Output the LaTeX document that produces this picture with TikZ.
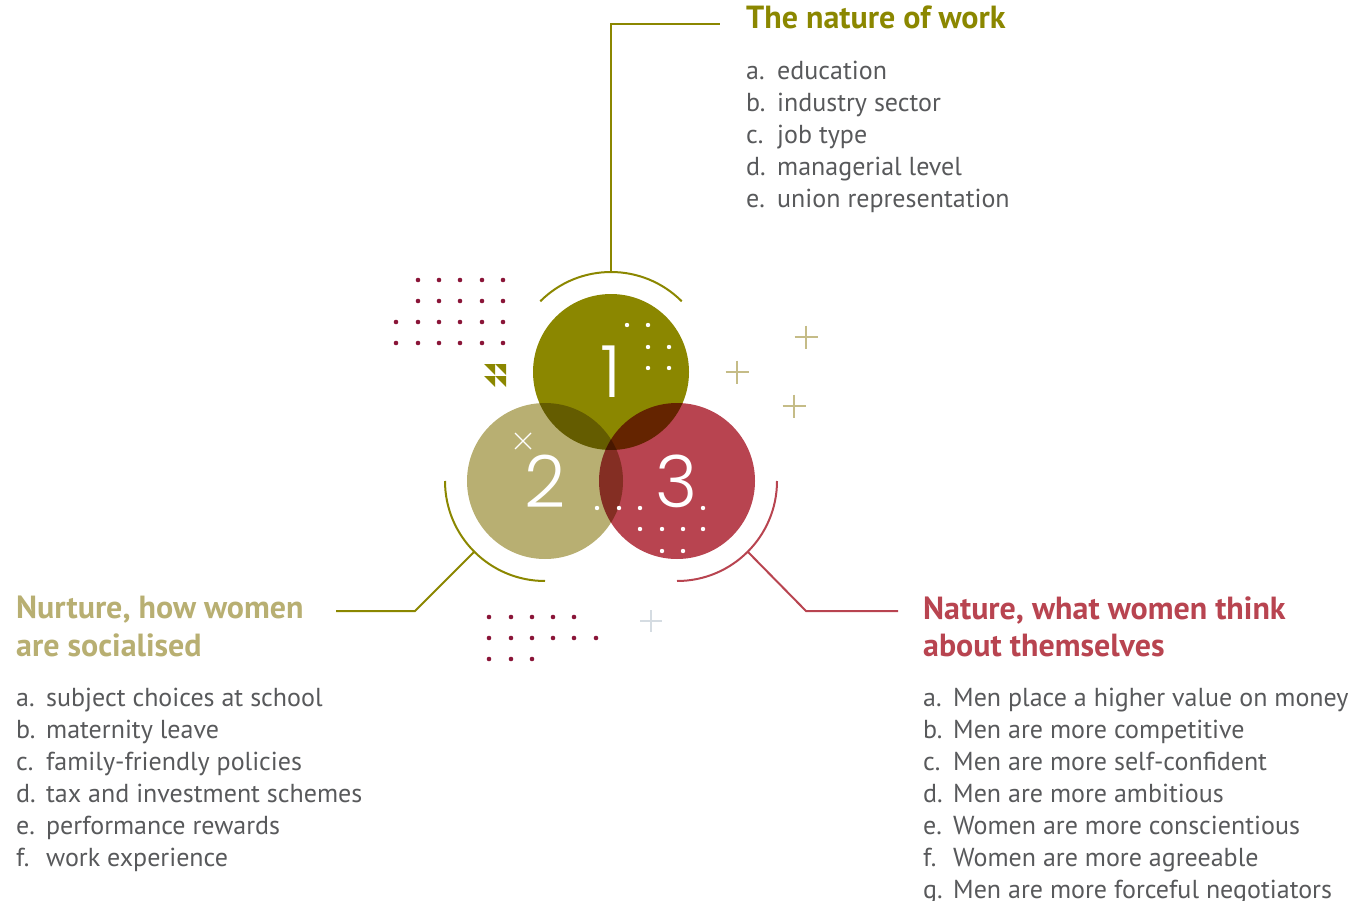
\documentclass[tikz,border=0pt]{standalone}
\usepackage{fontspec}
\setmainfont{PT Sans}
\newfontfamily\numfont{Poppins}[UprightFont=* Light]
\usetikzlibrary{positioning}

\definecolor{olivec}{HTML}{8B8700}
\definecolor{khaki}{HTML}{B8AF72}
\definecolor{crimson}{HTML}{B84450}
\definecolor{maroon}{HTML}{8A1538}
\definecolor{textgray}{HTML}{58595B}
\definecolor{pluskhaki}{HTML}{C5BC87}
\definecolor{plusgray}{HTML}{D5DCE2}

\begin{document}
\begin{tikzpicture}[x=1pt,y=-1pt,
  disc/.style={circle,minimum size=156pt,inner sep=0pt},
  num/.style={text=white,inner sep=0pt,font=\numfont\fontsize{72}{72}\selectfont},
  oline/.style={draw=olivec,line width=2pt},
  rline/.style={draw=crimson,line width=2pt},
  head/.style={anchor=base west,inner sep=0pt,font=\bfseries\fontsize{32}{38}\selectfont},
  item/.style={anchor=base west,inner sep=0pt,text=textgray,font=\fontsize{26}{32}\selectfont},
  plus/.style={draw=pluskhaki,line width=1.5pt}
]
\useasboundingbox (0,0) rectangle (1367,901);

% the three circles
\begin{scope}[blend mode=multiply]
\node[disc,fill=olivec] (c1) at (611,372) {};
\node[disc,fill=khaki] (c2) at (545,481) {};
\node[disc,fill=crimson] (c3) at (677,481) {};
\end{scope}
\node[num] (n1) at (c1) {1};
\node[num] (n2) at (c2) {2};
\node[num] (n3) at (c3) {3};

% outer arcs
\draw[oline] ([shift={(225:100)}]c1.center) arc[start angle=225,end angle=315,radius=100];
\draw[oline] ([shift={(180:100)}]c2.center) arc[start angle=180,end angle=90,radius=100];
\draw[rline] ([shift={(90:100)}]c3.center) arc[start angle=90,end angle=0,radius=100];

\coordinate (a1) at ([shift={(270:100)}]c1.center);
\coordinate (a2) at ([shift={(135:100)}]c2.center);
\coordinate (a3) at ([shift={(45:100)}]c3.center);
\coordinate (t1) at (720,24);
\coordinate (k2) at (415,611);
\coordinate (t2) at (336,611);
\coordinate (k3) at (806,611);
\coordinate (t3) at (898,611);

\draw[oline] (a1) |- (t1);
\draw[oline] (a2) -- (k2) -- (t2);
\draw[rline] (a3) -- (k3) -- (t3);

% dots
\foreach \y in {280,301}
  \foreach \x in {418,439,460,482,503}
    \fill[maroon] (\x,\y) circle (2.3);
\foreach \y in {322,343}
  \foreach \x in {396,418,439,460,482,503}
    \fill[maroon] (\x,\y) circle (2.3);
\foreach \x in {489,511,532,553,574}
  \fill[maroon] (\x,617) circle (2.3);
\foreach \x in {489,511,532,553,574,596}
  \fill[maroon] (\x,638) circle (2.3);
\foreach \x in {489,511,532}
  \fill[maroon] (\x,659) circle (2.3);

\foreach \p in {(627,325),(648,325),(648,347),(669,347),(648,368),(669,368),
  (597,508),(619,508),(640,508),(703,508),(640,529),(662,529),(683,529),(703,529),
  (662,551),(683,551)}
  \fill[white] \p circle (2.2);

\draw[white,line width=1.3pt] (515,433) -- (531,449) (531,433) -- (515,449);

% triangles
\foreach \x in {484,495}
  \foreach \y in {364,376}
    \fill[olivec] (\x,\y) -- ++(11,0) -- ++(0,11) -- cycle;

% crosses
\foreach \p in {(806,337),(737,372),(794,406)}
  \draw[plus] \p ++(-11.5,0) -- ++(23,0) \p ++(0,-11.5) -- ++(0,23);
\draw[draw=plusgray,line width=1.5pt] (640,621) -- (662,621) (651,610) -- (651,632);

% headings
\node[head,text=olivec] (h1) at (746,29) {The nature of work};
\node[head,text=khaki] (h2) at (16,618) {Nurture, how women};
\node[head,text=khaki] (h2b) at (16,656) {are socialised};
\node[head,text=crimson] (h3) at (923,619) {Nature, what women think};
\node[head,text=crimson] (h3b) at (923,656) {about themselves};

% lists
\foreach \k/\t [count=\i] in {a./education,b./industry sector,c./job type,
  d./managerial level,e./union representation}
  \node[item] (w\i) at (746,48+32*\i) {\makebox[31pt][l]{\k}\t};
\foreach \k/\t [count=\i] in {a./subject choices at school,b./maternity leave,
  c./family-friendly policies,d./tax and investment schemes,
  e./performance rewards,f./work experience}
  \node[item] (s\i) at (16,674+32*\i) {\makebox[30pt][l]{\k}\t};
\foreach \k/\t [count=\i] in {a./Men place a higher value on money,
  b./Men are more competitive,c./Men are more self-confident,
  d./Men are more ambitious,e./Women are more conscientious,
  f./Women are more agreeable,g./Men are more forceful negotiators}
  \node[item] (m\i) at (923,674+32*\i) {\makebox[30pt][l]{\k}\t};
\end{tikzpicture}
\end{document}
